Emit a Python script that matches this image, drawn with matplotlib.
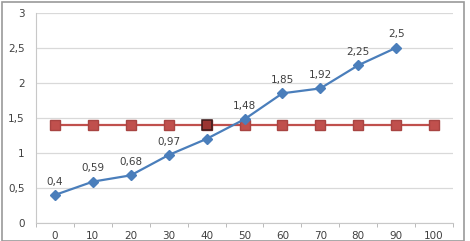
import matplotlib
matplotlib.use("Agg")
import matplotlib.pyplot as plt
from matplotlib.patches import Rectangle
from matplotlib.ticker import FuncFormatter

categories = [0, 10, 20, 30, 40, 50, 60, 70, 80, 90, 100]
blue_values = [0.4, 0.59, 0.68, 0.97, 1.2, 1.48, 1.85, 1.92, 2.25, 2.5]
blue_labels = ["0,4", "0,59", "0,68", "0,97", "", "1,48", "1,85", "1,92", "2,25", "2,5"]
red_values = [1.4, 1.4, 1.4, 1.4, 1.4, 1.4, 1.4, 1.4, 1.4, 1.4, 1.4]
red_highlight = 4
y_ticks = [0, 0.5, 1, 1.5, 2, 2.5, 3]

W, H = 470, 241
fig = plt.figure(figsize=(W / 100, H / 100), dpi=100)
ax = fig.add_axes([36 / W, (H - 223) / H, (453 - 36) / W, (223 - 12.7) / H])

blue = "#4A7EBB"
red = "#C0504D"
txt = "#404040"

xb = list(range(len(blue_values)))
xr = list(range(len(red_values)))
ax.plot(xr, red_values, color=red, lw=1.6, marker="s", ms=6.5,
        mfc=red, mec="#A84442", zorder=3)
ax.plot([xr[red_highlight]], [red_values[red_highlight]], ls="none", marker="s",
        ms=6.5, mfc="#9A3532", mec="#3a1a1a", mew=1.1, zorder=4)
ax.plot(xb, blue_values, color=blue, lw=1.6, marker="D", ms=5,
        mfc=blue, mec=blue, zorder=5)
for x, v, lab in zip(xb, blue_values, blue_labels):
    if lab:
        ax.annotate(lab, (x, v), xytext=(0, 6), textcoords="offset points",
                    ha="center", va="bottom", fontsize=7.5, color=txt)

ax.set_xlim(-0.5, len(categories) - 0.5)
ax.set_ylim(0, 3)
ax.set_yticks(y_ticks)
ax.yaxis.set_major_formatter(FuncFormatter(lambda v, p: ("%g" % v).replace(".", ",")))
ax.set_xticks(range(len(categories)))
ax.set_xticklabels([str(c) for c in categories])
ax.set_xticks([i - 0.5 for i in range(len(categories) + 1)], minor=True)
ax.tick_params(axis="x", which="major", length=0, pad=5.5, labelsize=7.5, labelcolor=txt)
ax.tick_params(axis="x", which="minor", length=3, direction="out", color="#B0B0B0")
ax.tick_params(axis="y", length=0, pad=8, labelsize=7.5, labelcolor=txt)
ax.grid(axis="y", color="#D9D9D9", lw=0.9)
ax.set_axisbelow(True)
for s in ["top", "right"]:
    ax.spines[s].set_visible(False)
ax.spines["left"].set_color("#C8C8C8")
ax.spines["bottom"].set_color("#C8C8C8")

fig.patches.append(Rectangle((1.5 / W, 0), (464 - 1.5) / W, (H - 1.5) / H,
                             transform=fig.transFigure, fill=False,
                             ec="#9A9A9A", lw=1.2))
fig.savefig("out.png", dpi=100)
